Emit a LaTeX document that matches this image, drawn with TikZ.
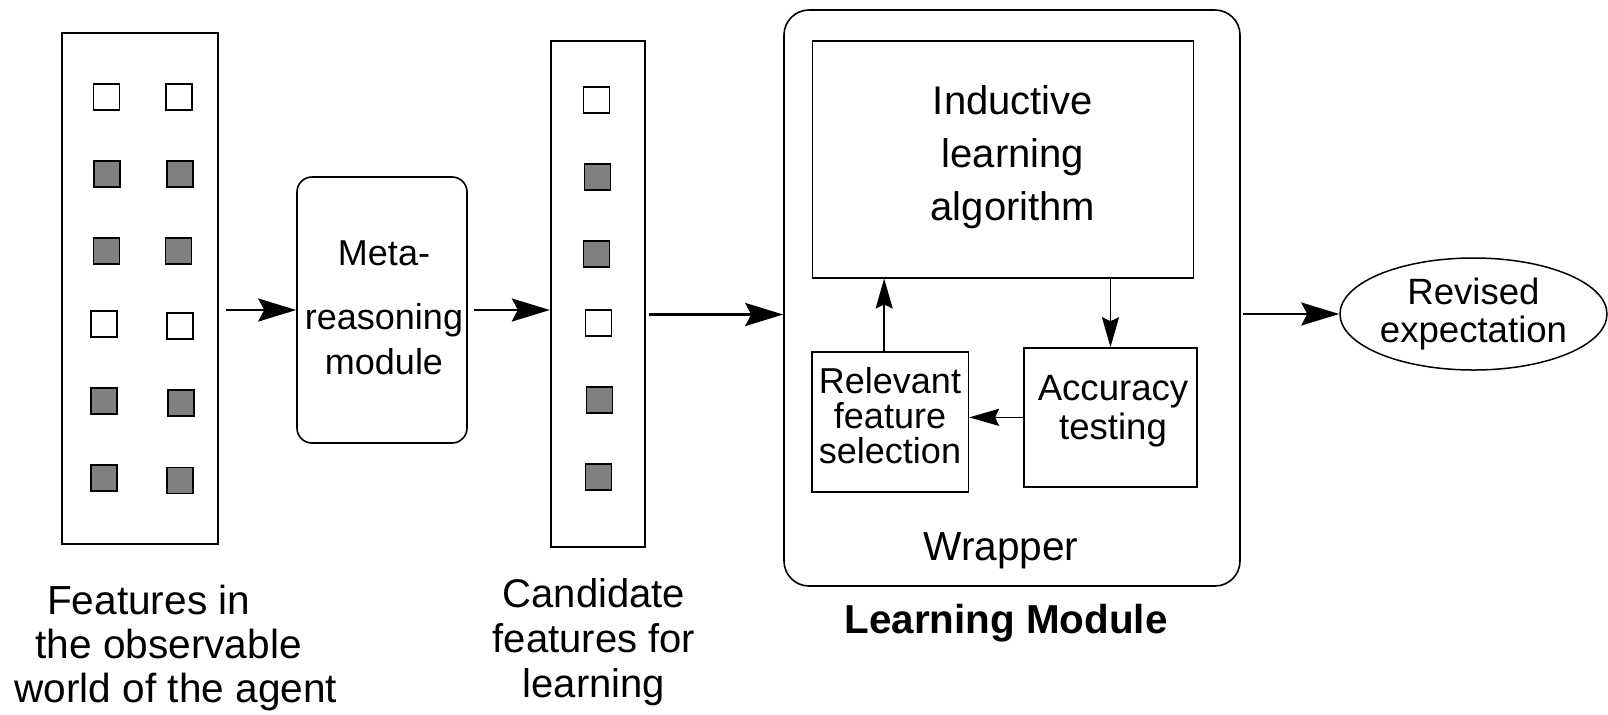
\documentclass[tikz,border=0pt]{standalone}
\usepackage{fontspec}
\setmainfont{Liberation Sans}
\usetikzlibrary{arrows.meta,shapes.geometric}
\begin{document}
\begin{tikzpicture}[x=0.5pt,y=-0.5pt,
  outerbox/.style={draw,line width=1.15pt,inner sep=0pt},
  sq/.style={draw,line width=0.85pt,minimum size=13pt,inner sep=0pt},
  roundbox/.style={draw,line width=0.8pt,inner sep=0pt},
  innerbox/.style={draw,line width=0.8pt,inner sep=0pt},
  txt/.style={inner sep=0pt,align=center},
  bigarr/.style={line width=1.3pt,-{Stealth[length=19pt,width=11.5pt,inset=3pt]}},
  smallarr/.style={line width=0.85pt,-{Stealth[length=15pt,width=8.5pt,inset=2pt]}}]
\useasboundingbox (0,0) rectangle (1608,714);

% left feature box
\node[outerbox,minimum width=78pt,minimum height=255.5pt] (feat) at (140,288.5) {};
\foreach \x/\y/\c [count=\i] in {106.5/97/white,179/97/white,
  107/173.7/gray,180/173.7/gray,106.6/251/gray,178.6/251/gray,
  104.2/324/white,180/326/white,104.2/401.2/gray,181/403.2/gray,
  104/478/gray,180/480.6/gray}
  \node[sq,fill=\c] (f\i) at (\x,\y) {};

% meta-reasoning module
\node[roundbox,rounded corners=7.5pt,minimum width=85pt,minimum height=133pt] (meta) at (382,310) {};
\node[txt,font={\fontsize{18}{22.5}\selectfont}] (metatext) at (384,307.5) {Meta-\\[9.5pt]reasoning\\module};

% candidate box
\node[outerbox,minimum width=47pt,minimum height=253pt] (cand) at (598,294) {};
\foreach \x/\y/\c [count=\i] in {596.4/99.7/white,597.5/176.9/gray,596.4/253.8/gray,
  598.5/322.9/white,599.5/399.8/gray,598.5/477/gray}
  \node[sq,fill=\c] (c\i) at (\x,\y) {};

% wrapper / learning module
\node[roundbox,rounded corners=12.5pt,minimum width=228pt,minimum height=288pt] (wrap) at (1012,298) {};
\node[innerbox,minimum width=190.5pt,minimum height=118.5pt] (ind) at (1003,159.2) {};
\node[txt,font={\fontsize{20}{26.5}\selectfont}] (indtext) at (1013,157.5) {Inductive\\learning\\algorithm};
\node[innerbox,minimum width=78.15pt,minimum height=70pt] (rel) at (890.15,421.7) {};
\node[txt,font={\fontsize{18}{17.5}\selectfont}] (reltext) at (890,416) {Relevant\\feature\\selection};
\node[innerbox,minimum width=86.5pt,minimum height=69.35pt] (acc) at (1110.5,417.35) {};
\node[txt,font={\fontsize{18.3}{19.6}\selectfont}] (acctext) at (1113,411) {Accuracy\\testing};
\node[inner sep=0pt,anchor=base,font={\fontsize{20.3}{22}\selectfont}] (wraptext) at (1001,560) {Wrapper};
\node[inner sep=0pt,anchor=base,font={\fontsize{20.2}{22}\selectfont\bfseries}] (lmtext) at (1006,633) {Learning Module};

% revised expectation
\node[ellipse,draw,line width=0.75pt,inner sep=0pt,minimum width=133.5pt,minimum height=56pt,align=center,
  font={\fontsize{18.3}{18.6}\selectfont}] (rev) at (1473.5,314) {Revised\\expectation};

% bottom labels
\node[inner sep=0pt,align=left,anchor=west,font={\fontsize{20.3}{22.2}\selectfont}] (featlabel) at (14,648)
  {\hspace*{16.35pt}Features in\\\hspace*{10.5pt}the observable\\world of the agent};
\node[txt,font={\fontsize{20}{22.5}\selectfont}] (candlabel) at (594,642) {Candidate\\features for\\learning};

% connectors
\coordinate (a3) at (700,314.5);
\draw[bigarr,shorten <=3.5pt] (feat.east |- meta.west) -- (meta.west);
\draw[bigarr,shorten <=3pt] (meta.east) -- (meta.east -| cand.west);
\draw[bigarr,shorten <=1.5pt] (cand.east |- a3) -- (wrap.west |- a3);
\draw[bigarr,shorten <=1pt] (wrap.east |- rev.west) -- (rev.west);
\draw[smallarr] ([xshift=-3pt]rel.north) -- ([xshift=-3pt]rel.north |- ind.south);
\draw[smallarr] (acc.north |- ind.south) -- (acc.north);
\draw[smallarr] (acc.west) -- (acc.west -| rel.east);
\end{tikzpicture}
\end{document}
